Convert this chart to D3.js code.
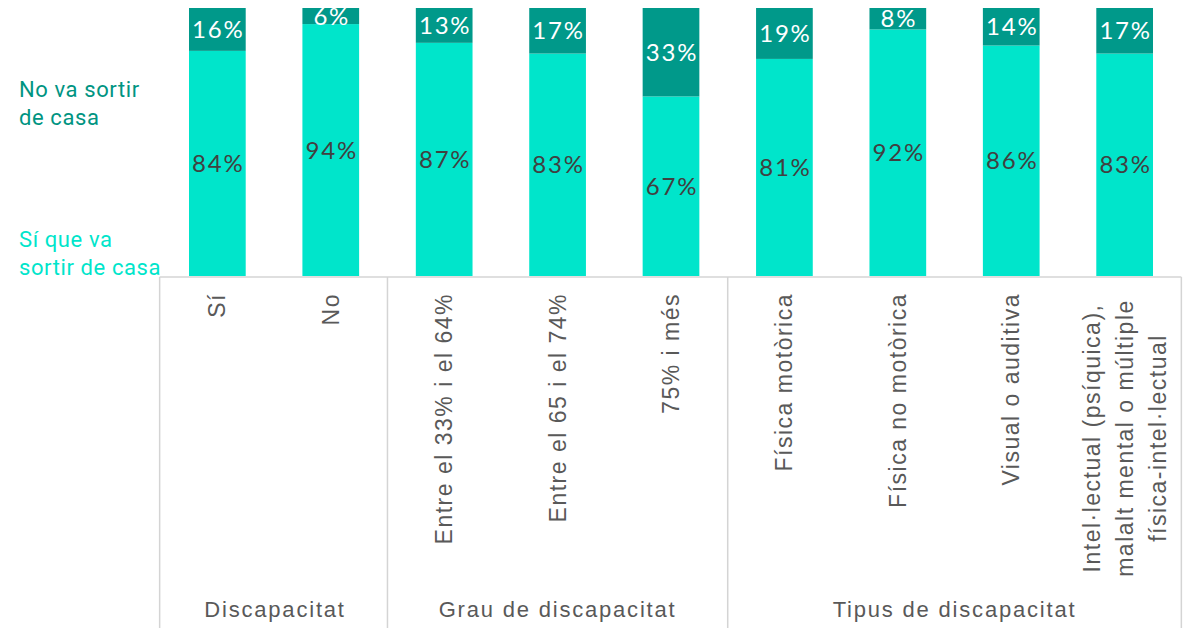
<!DOCTYPE html>
<html>
<head>
<meta charset="utf-8">
<script src="https://cdn.jsdelivr.net/npm/d3@7"></script>
<style>
  html, body { margin: 0; padding: 0; background: #fff; }
  svg { display: block; }
</style>
</head>
<body>
<svg id="chart" width="1184" height="628"></svg>
<script>
// ---- data ----
const categories = ["Sí", "No", "Entre el 33% i el 64%", "Entre el 65 i el 74%", "75% i més",
  "Física motòrica", "Física no motòrica", "Visual o auditiva",
  "Intel·lectual (psíquica),|malalt mental o múltiple|física-intel·lectual"];
const groups = ["Discapacitat", "Discapacitat", "Grau de discapacitat", "Grau de discapacitat", "Grau de discapacitat",
  "Tipus de discapacitat", "Tipus de discapacitat", "Tipus de discapacitat", "Tipus de discapacitat"];
const siValues = [84, 94, 87, 83, 67, 81, 92, 86, 83];
const noValues = [16, 6, 13, 17, 33, 19, 8, 14, 17];
const seriesNames = ["Sí que va sortir de casa", "No va sortir de casa"];

// ---- styles ----
const cLight = "#00E5CB";
const cDark = "#00998A";
const gridCol = "#D4D4D4";

const svg = d3.select("#chart");

const x = d3.scaleBand().domain(categories).range([189, 1153]).paddingInner(0.5).paddingOuter(0);
const y = d3.scaleLinear().domain([0, 100]).range([276, 8]);

const rows = categories.map((c, i) => ({ cat: c, group: groups[i], si: siValues[i], no: noValues[i] }));
const stack = d3.stack().keys(["si", "no"])(rows);
const colors = { si: cLight, no: cDark };

svg.append("g").selectAll("g").data(stack).join("g")
  .attr("fill", d => colors[d.key])
  .selectAll("rect").data(d => d).join("rect")
  .attr("x", d => x(d.data.cat))
  .attr("width", x.bandwidth())
  .attr("y", d => y(d[1]))
  .attr("height", d => y(d[0]) - y(d[1]));

// data labels
const lbl = svg.append("g").attr("font-family", "Lato, 'Noto Sans', sans-serif")
  .attr("font-size", 24).attr("letter-spacing", "1.8px").attr("text-anchor", "middle");
stack.forEach(s => {
  lbl.selectAll(null).data(s).join("text")
    .attr("x", d => x(d.data.cat) + x.bandwidth() / 2 + 1)
    .attr("y", d => (y(d[0]) + y(d[1])) / 2)
    .attr("dy", "0.36em")
    .attr("fill", s.key === "si" ? "#404040" : "#ffffff")
    .text(d => d.data[s.key] + "%");
});

// legend labels on the left
const legend = svg.append("g").attr("font-family", "Roboto, 'Noto Sans', sans-serif")
  .attr("font-size", 22).attr("letter-spacing", "0.6px");
const legNo = legend.append("text").attr("x", 19).attr("y", 97).attr("fill", "#009482");
legNo.append("tspan").attr("x", 19).text("No va sortir");
legNo.append("tspan").attr("x", 19).attr("dy", 28).text("de casa");
const legSi = legend.append("text").attr("x", 19).attr("y", 247).attr("fill", cLight);
legSi.append("tspan").attr("x", 19).text("Sí que va");
legSi.append("tspan").attr("x", 19).attr("dy", 28).text("sortir de casa");

// table grid
const step = x.step();
const half = (step - x.bandwidth()) / 2;
const left = x(categories[0]) - half - 1;
const right = x(categories[categories.length - 1]) + x.bandwidth() + half;
const topY = 277;
const grid = svg.append("g").attr("stroke", gridCol).attr("stroke-width", 1.5).attr("fill", "none");
grid.append("line").attr("x1", left).attr("x2", right).attr("y1", topY).attr("y2", topY);
const groupNames = Array.from(new Set(groups));
const bounds = groupNames.map(g => {
  const cats = rows.filter(r => r.group === g).map(r => r.cat);
  return [x(cats[0]) - half, x(cats[cats.length - 1]) + x.bandwidth() + half];
});
const vlines = [left, ...bounds.slice(0, -1).map(b => b[1]), right];
grid.selectAll(null).data(vlines).join("line")
  .attr("x1", d => d).attr("x2", d => d).attr("y1", topY).attr("y2", 628);

// category labels (rotated)
const catG = svg.append("g").attr("font-family", "'Liberation Sans', Arial, sans-serif")
  .attr("font-size", 23).attr("fill", "#595959").attr("letter-spacing", "1.5px");
rows.forEach(r => {
  const lines = r.cat.split("|");
  const cx = x(r.cat) + x.bandwidth() / 2;
  const lh = 33;
  if (lines.length === 1) {
    catG.append("text")
      .attr("transform", `translate(${cx},${293}) rotate(-90)`)
      .attr("text-anchor", "end").attr("dy", "0.35em")
      .text(lines[0]);
  } else {
    const centerY = 438;
    lines.forEach((ln, i) => {
      catG.append("text")
        .attr("transform", `translate(${cx + (i - (lines.length - 1) / 2) * lh},${centerY}) rotate(-90)`)
        .attr("text-anchor", "middle").attr("dy", "0.35em")
        .text(ln);
    });
  }
});

// group labels
const grpG = svg.append("g").attr("font-family", "'Liberation Sans', Arial, sans-serif")
  .attr("font-size", 22).attr("fill", "#595959").attr("letter-spacing", "1.8px").attr("text-anchor", "middle");
groupNames.forEach((g, i) => {
  grpG.append("text").attr("x", (bounds[i][0] + bounds[i][1]) / 2 + (i === 0 ? 1 : 0)).attr("y", 617).text(g);
});
</script>
</body>
</html>
